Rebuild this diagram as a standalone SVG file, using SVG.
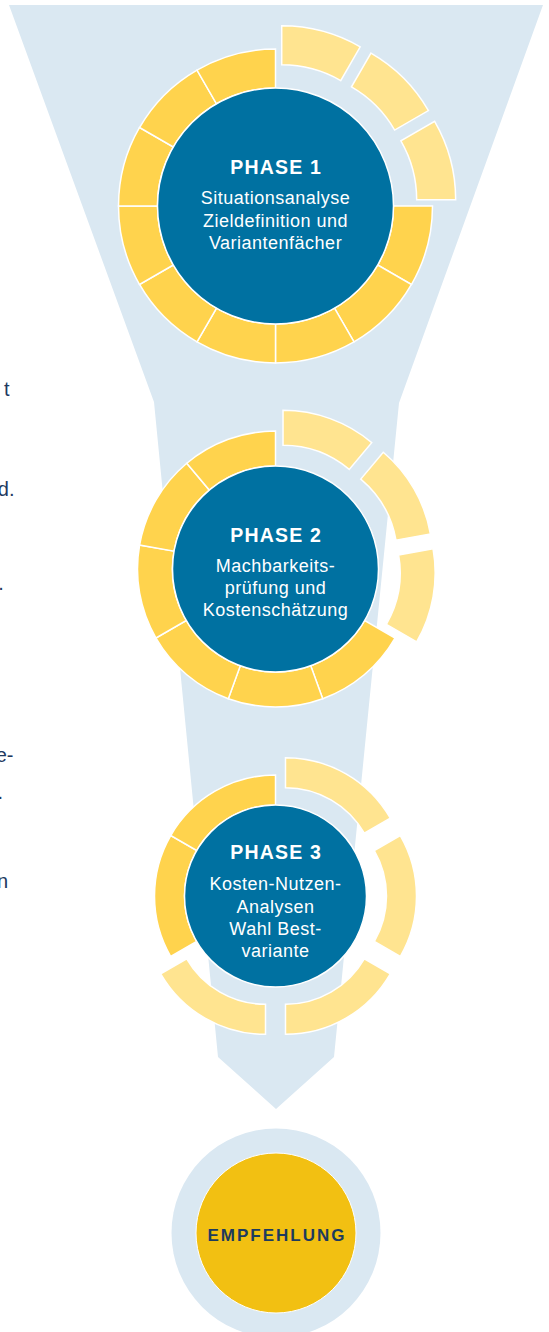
<svg xmlns="http://www.w3.org/2000/svg" width="549" height="1332" viewBox="0 0 549 1332">
<defs>
<style>
.dk{fill:#FFD34D;stroke:#fff;stroke-width:1.5}
.lt{fill:#FFE490;stroke:#fff;stroke-width:1.5}
.core{fill:#0071A1;stroke:#fff;stroke-width:1.5}
.bg{fill:#DAE8F2}
.ph{font-family:"Liberation Sans",Arial,sans-serif;font-weight:bold;font-size:19.5px;letter-spacing:1.2px;fill:#fff;text-anchor:middle}
.tx{font-family:"Liberation Sans",Arial,sans-serif;font-size:18px;letter-spacing:0.5px;fill:#fff;text-anchor:middle}
.side{font-family:"Liberation Sans",Arial,sans-serif;font-size:20px;fill:#1E3A5F;text-anchor:end}
.em{font-family:"Liberation Sans",Arial,sans-serif;font-weight:bold;font-size:17px;letter-spacing:2px;fill:#1D3B5E;text-anchor:middle}
</style>
<path id="s1" d="M -40.635 -151.650 A 157 157 0 0 1 40.635 -151.650 L 30.541 -113.979 A 118 118 0 0 0 -30.541 -113.979 Z"/>
<path id="s2" d="M -47.199 -129.678 A 138 138 0 0 1 47.199 -129.678 L 35.228 -96.788 A 103 103 0 0 0 -35.228 -96.788 Z"/>
<path id="s3" d="M -60.5 -104.789 A 121 121 0 0 1 60.5 -104.789 L 45.5 -78.808 A 91 91 0 0 0 -45.5 -78.808 Z"/>
</defs>

<g id="connectors">
<path class="bg" d="M 9 5 L 543 5 L 399 403 L 334 1057 L 276 1109 L 218 1057 L 154 402 Z"/>
</g>

<g id="side-text">
<text class="side" x="9.5" y="396">t</text>
<text class="side" x="14.5" y="496">d.</text>
<text class="side" x="3.8" y="590">.</text>
<text class="side" x="13.5" y="762">e-</text>
<text class="side" x="3" y="799">.</text>
<text class="side" x="8" y="888">n</text>
</g>

<g id="phase1" transform="translate(275.5 206)">
<use href="#s1" class="lt" transform="rotate(15) translate(0 -24)"/>
<use href="#s1" class="lt" transform="rotate(45) translate(0 -24)"/>
<use href="#s1" class="lt" transform="rotate(75) translate(0 -24)"/>
<use href="#s1" class="dk" transform="rotate(105)"/>
<use href="#s1" class="dk" transform="rotate(135)"/>
<use href="#s1" class="dk" transform="rotate(165)"/>
<use href="#s1" class="dk" transform="rotate(195)"/>
<use href="#s1" class="dk" transform="rotate(225)"/>
<use href="#s1" class="dk" transform="rotate(255)"/>
<use href="#s1" class="dk" transform="rotate(285)"/>
<use href="#s1" class="dk" transform="rotate(315)"/>
<use href="#s1" class="dk" transform="rotate(345)"/>
<circle class="core" cx="0" cy="0" r="118"/>
<text class="ph" x="0.6" y="-32">PHASE 1</text>
<text class="tx" x="0" y="-2">Situationsanalyse</text>
<text class="tx" x="0" y="20.5">Zieldefinition und</text>
<text class="tx" x="0" y="42.5">Variantenfächer</text>
</g>

<g id="phase2" transform="translate(275.5 569)">
<use href="#s2" class="lt" transform="rotate(20) translate(0 -22)"/>
<use href="#s2" class="lt" transform="rotate(60) translate(0 -22)"/>
<use href="#s2" class="lt" transform="rotate(100) translate(0 -22)"/>
<use href="#s2" class="dk" transform="rotate(140)"/>
<use href="#s2" class="dk" transform="rotate(180)"/>
<use href="#s2" class="dk" transform="rotate(220)"/>
<use href="#s2" class="dk" transform="rotate(260)"/>
<use href="#s2" class="dk" transform="rotate(300)"/>
<use href="#s2" class="dk" transform="rotate(340)"/>
<circle class="core" cx="0" cy="0" r="103"/>
<text class="ph" x="0.6" y="-27.3">PHASE 2</text>
<text class="tx" x="0" y="2.7">Machbarkeits-</text>
<text class="tx" x="0" y="25">prüfung und</text>
<text class="tx" x="0" y="47">Kostenschätzung</text>
</g>

<g id="phase3" transform="translate(275.5 896)">
<use href="#s3" class="lt" transform="rotate(30) translate(0 -20)"/>
<use href="#s3" class="lt" transform="rotate(90) translate(0 -20)"/>
<use href="#s3" class="lt" transform="rotate(150) translate(0 -20)"/>
<use href="#s3" class="lt" transform="rotate(210) translate(0 -20)"/>
<use href="#s3" class="dk" transform="rotate(270)"/>
<use href="#s3" class="dk" transform="rotate(330)"/>
<circle class="core" cx="0" cy="0" r="91"/>
<text class="ph" x="0.6" y="-37">PHASE 3</text>
<text class="tx" x="0" y="-6">Kosten-Nutzen-</text>
<text class="tx" x="0" y="16.5">Analysen</text>
<text class="tx" x="0" y="39">Wahl Best-</text>
<text class="tx" x="0" y="61">variante</text>
</g>

<g id="empfehlung">
<circle class="bg" cx="276" cy="1233" r="104.5"/>
<circle cx="276" cy="1233" r="80" fill="#F2C012" stroke="#fff" stroke-width="1"/>
<text class="em" x="277" y="1241">EMPFEHLUNG</text>
</g>
</svg>
